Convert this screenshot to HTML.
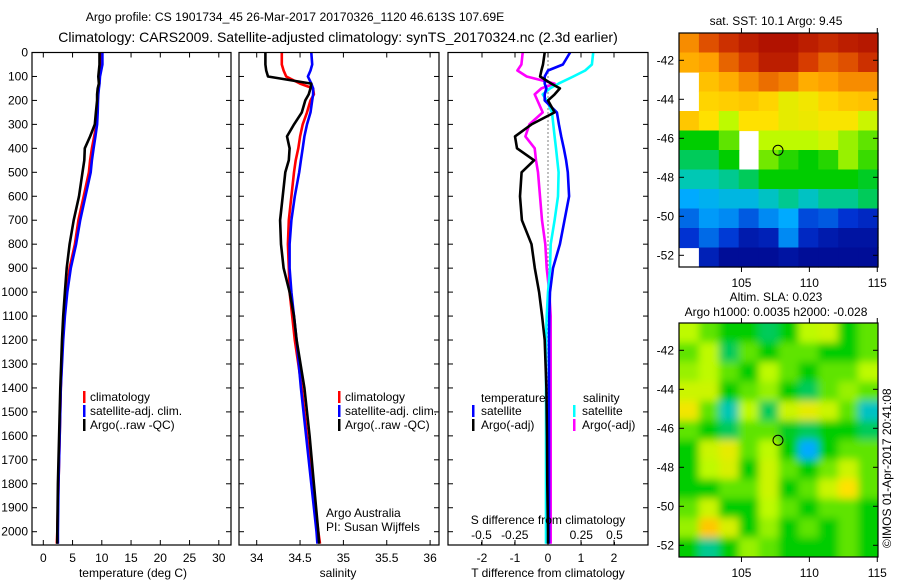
<!DOCTYPE html>
<html><head><meta charset="utf-8"><style>
body{margin:0;background:#fff;}
svg text{font-family:"Liberation Sans",sans-serif;fill:#000;}
</style></head><body>
<svg id="c" width="900" height="580" xmlns="http://www.w3.org/2000/svg">
<defs>
<filter id="blur" x="0" y="0" width="1" height="1"><feGaussianBlur stdDeviation="4"/></filter>
<clipPath id="clip2"><rect x="679" y="323" width="199" height="234"/></clipPath>
</defs>
<text x="295" y="21" font-size="12.2" text-anchor="middle">Argo profile: CS 1901734_45 26-Mar-2017 20170326_1120 46.613S 107.69E</text>
<text x="338" y="42" font-size="14" text-anchor="middle">Climatology: CARS2009. Satellite-adjusted climatology: synTS_20170324.nc (2.3d earlier)</text>
<text x="776" y="25" font-size="12" text-anchor="middle">sat. SST: 10.1 Argo: 9.45</text>
<text x="776" y="301" font-size="12" text-anchor="middle">Altim. SLA: 0.023</text>
<text x="776" y="316" font-size="12" text-anchor="middle">Argo h1000: 0.0035 h2000: -0.028</text>
<text transform="translate(891,548) rotate(-90)" font-size="12">©IMOS 01-Apr-2017 20:41:08</text>
<g id="g"></g>
</svg>
<script>
// ---- data ----
const depths   = [0,50,75,100,130,150,175,200,250,300,350,400,450,500,600,700,800,900,1000,1100,1200,1400,1600,1800,2000,2050];
const tempArgo = [9.6,9.6,9.5,9.4,9.5,9.3,9.2,9.2,9.0,8.8,8.0,7.1,7.0,6.7,6.1,5.2,4.5,4.0,3.7,3.4,3.2,2.9,2.7,2.5,2.4,2.4];
const tempClim = [9.85,9.85,9.8,9.6,9.5,9.4,9.35,9.3,9.2,9.1,8.7,8.3,8.0,7.8,6.9,6.0,5.4,4.5,4.0,3.6,3.3,3.0,2.8,2.6,2.4,2.3];
const tempSat  = [10.1,10.1,9.9,9.7,9.6,9.5,9.4,9.35,9.3,9.2,8.9,8.6,8.3,8.1,7.2,6.3,5.6,4.7,4.1,3.7,3.4,3.0,2.8,2.6,2.5,2.5];
const salArgo  = [34.10,34.10,34.11,34.13,34.63,34.62,34.60,34.56,34.52,34.43,34.35,34.38,34.37,34.33,34.30,34.27,34.28,34.31,34.38,34.43,34.46,34.55,34.61,34.66,34.71,34.72];
const salClim  = [34.29,34.29,34.31,34.34,34.50,34.65,34.66,34.62,34.58,34.53,34.50,34.48,34.45,34.43,34.40,34.37,34.36,34.37,34.38,34.41,34.44,34.52,34.58,34.64,34.71,34.73];
const salSat   = [34.63,34.64,34.62,34.59,34.63,34.65,34.65,34.64,34.62,34.58,34.55,34.53,34.51,34.49,34.44,34.40,34.38,34.38,34.40,34.43,34.46,34.51,34.57,34.63,34.69,34.70];
const dTArgo   = [-0.1,-0.15,-0.2,-0.24,0.1,0.36,0.2,0,0.2,-0.5,-1.0,-0.94,-0.42,-0.8,-0.85,-0.79,-0.5,-0.4,-0.27,-0.18,-0.1,-0.05,-0.03,-0.02,0,0];
const dTSat    = [0.67,0.45,0,-0.1,-0.1,-0.05,-0.1,-0.1,0.27,0.33,0.4,0.48,0.55,0.6,0.64,0.5,0.36,0.15,0.06,0.04,0.03,0.03,0.03,0.03,0.03,0.03];
const dSSat    = [0.34,0.33,0.28,0.19,0.08,0.015,-0.04,-0.01,0.03,0.04,0.05,0.06,0.07,0.08,0.075,0.05,0.02,0.015,0,-0.01,-0.015,-0.015,-0.015,-0.015,-0.015,-0.015];
const dSArgo   = [-0.19,-0.2,-0.23,-0.16,0.05,-0.05,-0.1,-0.08,-0.04,-0.14,-0.17,-0.1,-0.09,-0.075,-0.06,-0.045,-0.02,-0.01,0.01,0.02,0.02,0.02,0.02,0.02,0.02,0.02];
const depthTicks = [0,100,200,300,400,500,600,700,800,900,1000,1100,1200,1300,1400,1500,1600,1700,1800,1900,2000];
const tempTicks = [0,5,10,15,20,25,30];
const salTicks = ["34","34.5","35","35.5","36"];
const dTTicks = [-2,-1,0,1,2];
const dSTicks = ["-0.5","-0.25","0","0.25","0.5"];
const latTicks = [-42,-44,-46,-48,-50,-52];
const lonTicks = [105,110,115];
const floatLon = 107.69, floatLat = -46.613;
const sstGrid = [
[0.82,0.88,0.92,0.95,0.97,0.97,0.95,0.93,0.95,0.96],
[0.78,0.8,0.86,0.9,0.95,0.95,0.9,0.86,0.88,0.92],
[null,0.75,0.78,0.82,0.85,0.83,0.78,0.8,0.82,0.82],
[null,0.72,0.73,0.74,0.72,0.66,0.68,0.72,0.74,0.75],
[0.74,0.7,0.6,0.7,0.7,0.66,0.67,0.69,0.69,0.62],
[0.5,0.5,0.55,null,0.6,0.6,0.6,0.63,0.58,0.55],
[0.45,0.45,0.5,null,0.56,0.52,0.5,0.52,0.58,0.53],
[0.4,0.4,0.42,0.45,0.5,0.5,0.5,0.5,0.5,0.48],
[0.3,0.32,0.34,0.34,0.38,0.42,0.38,0.42,0.42,0.45],
[0.22,0.28,0.26,0.2,0.26,0.3,0.18,0.2,0.15,0.12],
[0.15,0.22,0.16,0.08,0.1,0.26,0.12,0.08,0.06,0.06],
[null,0.1,0.04,0.04,0.04,0.06,0.04,0.04,0.04,0.04]];
const slaGrid = [
[0.6,0.55,0.5,0.5,0.45,0.5,0.6,0.62,0.5,0.55],
[0.55,0.6,0.45,0.55,0.5,0.55,0.55,0.5,0.5,0.55],
[0.58,0.6,0.55,0.5,0.6,0.55,0.5,0.55,0.55,0.6],
[0.62,0.62,0.5,0.55,0.58,0.5,0.45,0.55,0.58,0.55],
[0.68,0.55,0.4,0.6,0.45,0.62,0.66,0.62,0.55,0.38],
[0.55,0.5,0.45,0.55,0.55,0.48,0.45,0.5,0.5,0.45],
[0.5,0.62,0.66,0.55,0.6,0.5,0.3,0.5,0.55,0.55],
[0.5,0.6,0.64,0.5,0.62,0.55,0.5,0.56,0.62,0.55],
[0.5,0.5,0.55,0.55,0.62,0.5,0.55,0.62,0.7,0.55],
[0.55,0.62,0.5,0.5,0.6,0.55,0.5,0.55,0.55,0.5],
[0.58,0.74,0.64,0.5,0.58,0.5,0.55,0.5,0.55,0.5],
[0.5,0.42,0.5,0.58,0.55,0.5,0.5,0.5,0.55,0.5]];

// ---- helpers ----
const NS="http://www.w3.org/2000/svg";
const G=document.getElementById('g');
function mk(tag,attrs,parent){const e=document.createElementNS(NS,tag);for(const k in attrs)e.setAttribute(k,attrs[k]);(parent||G).appendChild(e);return e;}
const TOP=52.5, BOT=545;
const yD=d=>TOP+0.2396*d;
const xT=t=>43.3+5.85*t;
const xS=s=>256.7+86.7*(s-34);
const xDT=t=>548+33*t;
const xDS=s=>548+133*s;
const lonX=l=>679+(l-100.4)*13.58;
const latY=(l,top)=>top+(-40.6-l)*19.5;
const CMAP=[[0,[0,0,130]],[0.15,[0,50,210]],[0.3,[0,170,255]],[0.4,[0,200,180]],[0.5,[0,205,0]],[0.6,[190,250,0]],[0.7,[255,225,0]],[0.8,[255,160,0]],[0.9,[215,60,0]],[1,[160,0,0]]];
function cmap(v){v=Math.max(0,Math.min(1,v));for(let i=1;i<CMAP.length;i++){if(v<=CMAP[i][0]){const a=CMAP[i-1],b=CMAP[i],f=(v-a[0])/(b[0]-a[0]);const c=a[1].map((x,k)=>Math.round(x+(b[1][k]-x)*f));return `rgb(${c})`;}}return 'rgb(160,0,0)';}
function txt(x,y,s,anchor,size,name){const t=mk('text',{x:x,y:y,'font-size':size||12,'text-anchor':anchor||'start'});t.textContent=s;


return t;}
function line(xs,ds,color,name){const pts=ds.map((d,i)=>xs[i].toFixed(1)+','+yD(d).toFixed(1)).join(' ');const p=mk('polyline',{points:pts,fill:'none',stroke:color,'stroke-width':2.6,'stroke-linejoin':'round'});


}
function box(x0,x1,y0,y1,name){const r=mk('rect',{x:x0,y:y0,width:x1-x0,height:y1-y0,fill:'none',stroke:'#000','stroke-width':1.2});


}
function tickTop(x,y0,y1){mk('line',{x1:x,x2:x,y1:y1,y2:y1-5,stroke:'#000'});mk('line',{x1:x,x2:x,y1:y0,y2:y0+5,stroke:'#000'});}

// ---- panel 1: temperature ----
depthTicks.forEach(d=>{txt(28,yD(d)+4,String(d),'end',12,'depth-tick-label');mk('line',{x1:32,x2:37,y1:yD(d),y2:yD(d),stroke:'#000'});mk('line',{x1:226,x2:231,y1:yD(d),y2:yD(d),stroke:'#000'});});
tempTicks.forEach(t=>{tickTop(xT(t),TOP,BOT);txt(xT(t),562,String(t),'middle',12,'temperature-tick-label');});
line(tempClim.map(xT),depths,'#f00','temp-climatology-line');
line(tempSat.map(xT),depths,'#00f','temp-satellite-line');
line(tempArgo.map(xT),depths,'#000','temp-argo-line');
box(32,231,TOP,BOT,'temperature-panel');
txt(133,577,'temperature (deg C)','middle',12,'temperature-axis-title');
[['climatology','#f00'],['satellite-adj. clim.','#00f'],['Argo(..raw -QC)','#000']].forEach((l,i)=>{mk('rect',{x:83,y:391+14*i,width:2.5,height:12,fill:l[1]});txt(90,401+14*i,l[0],'start',12,'temp-legend-entry');});

// ---- panel 2: salinity ----
depthTicks.forEach(d=>{mk('line',{x1:239,x2:244,y1:yD(d),y2:yD(d),stroke:'#000'});mk('line',{x1:434,x2:439,y1:yD(d),y2:yD(d),stroke:'#000'});});
salTicks.forEach(s=>{tickTop(xS(+s),TOP,BOT);txt(xS(+s),562,s,'middle',12,'salinity-tick-label');});
line(salClim.map(xS),depths,'#f00','sal-climatology-line');
line(salSat.map(xS),depths,'#00f','sal-satellite-line');
line(salArgo.map(xS),depths,'#000','sal-argo-line');
box(239,439,TOP,BOT,'salinity-panel');
txt(338,577,'salinity','middle',12,'salinity-axis-title');
[['climatology','#f00'],['satellite-adj. clim.','#00f'],['Argo(..raw -QC)','#000']].forEach((l,i)=>{mk('rect',{x:338,y:391+14*i,width:2.5,height:12,fill:l[1]});txt(345,401+14*i,l[0],'start',12,'sal-legend-entry');});
txt(326,517,'Argo Australia','start',12,'argo-australia-label');
txt(326,531,'PI: Susan Wijffels','start',12,'pi-label');

// ---- panel 3: differences ----
depthTicks.forEach(d=>{mk('line',{x1:448,x2:453,y1:yD(d),y2:yD(d),stroke:'#000'});mk('line',{x1:643,x2:648,y1:yD(d),y2:yD(d),stroke:'#000'});});
mk('line',{x1:548,x2:548,y1:TOP,y2:BOT,stroke:'#000','stroke-dasharray':'1,3'});
dTTicks.forEach(t=>{mk('line',{x1:xDT(t),x2:xDT(t),y1:BOT,y2:BOT-5,stroke:'#000'});mk('line',{x1:xDT(t),x2:xDT(t),y1:TOP,y2:TOP+5,stroke:'#000'});txt(xDT(t),562,(t<0?'-':'')+Math.abs(t),'middle',12,'tdiff-tick-label');});
dSTicks.forEach(s=>{mk('line',{x1:xDS(+s),x2:xDS(+s),y1:BOT,y2:BOT-3,stroke:'#000'});txt(xDS(+s),539,s,'middle',12,'sdiff-tick-label');});
line(dSArgo.map(xDS),depths,'#f0f','sdiff-argo-line');
line(dSSat.map(xDS),depths,'#0ff','sdiff-satellite-line');
line(dTSat.map(xDT),depths,'#00f','tdiff-satellite-line');
line(dTArgo.map(xDT),depths,'#000','tdiff-argo-line');
box(448,648,TOP,BOT,'difference-panel');
txt(548,524,'S difference from climatology','middle',12,'sdiff-axis-title');
txt(548,577,'T difference from climatology','middle',12,'tdiff-axis-title');
txt(481,402,'temperature','start',12,'legend-temperature-header');
txt(583,402,'salinity','start',12,'legend-salinity-header');
[['satellite','#00f',472],['Argo(-adj)','#000',472],['satellite','#0ff',573],['Argo(-adj)','#f0f',573]].forEach((l,i)=>{const r=i%2;mk('rect',{x:l[2],y:405+14*r,width:2.5,height:12,fill:l[1]});txt(l[2]+9,415+14*r,l[0],'start',12,'diff-legend-entry');});

// ---- maps ----
function drawMap(grid,top,name,smooth){
  const rows=grid.length, cols=grid[0].length, w=199/cols, h=234/rows;
  let parent=G;
  if(smooth){const clipG=mk('g',{'clip-path':'url(#clip2)'});parent=mk('g',{filter:'url(#blur)'},clipG);}
  grid.forEach((row,r)=>row.forEach((v,c)=>{if(v===null)return;
    let x=679+c*w,y=top+r*h,ww=w+0.6,hh=h+0.6;
    if(smooth){if(c===0){x-=15;ww+=15;}if(c===cols-1)ww+=15;if(r===0){y-=15;hh+=15;}if(r===rows-1)hh+=15;}
    const e=mk('rect',{x:x.toFixed(1),y:y.toFixed(1),width:ww.toFixed(1),height:hh.toFixed(1),fill:cmap(v)},parent);
    
    }));
  box(679,878,top,top+234,name);
  latTicks.forEach(l=>{const y=latY(l,top);mk('line',{x1:679,x2:684,y1:y,y2:y,stroke:'#000'});mk('line',{x1:873,x2:878,y1:y,y2:y,stroke:'#000'});txt(674,y+4,String(l),'end',12,name+'-lat-label');});
  lonTicks.forEach(l=>{const x=lonX(l);mk('line',{x1:x,x2:x,y1:top,y2:top-5,stroke:'#000'});mk('line',{x1:x,x2:x,y1:top+234,y2:top+239,stroke:'#000'});txt(x,top+254,String(l),'middle',12,name+'-lon-label');});
  const c=mk('circle',{cx:lonX(floatLon),cy:latY(floatLat,top),r:5,fill:'none',stroke:'#000','stroke-width':1});
  
  
}
drawMap(sstGrid,33,'sst-map',false);
drawMap(slaGrid,323,'sla-map',true);
</script>
</body></html>
